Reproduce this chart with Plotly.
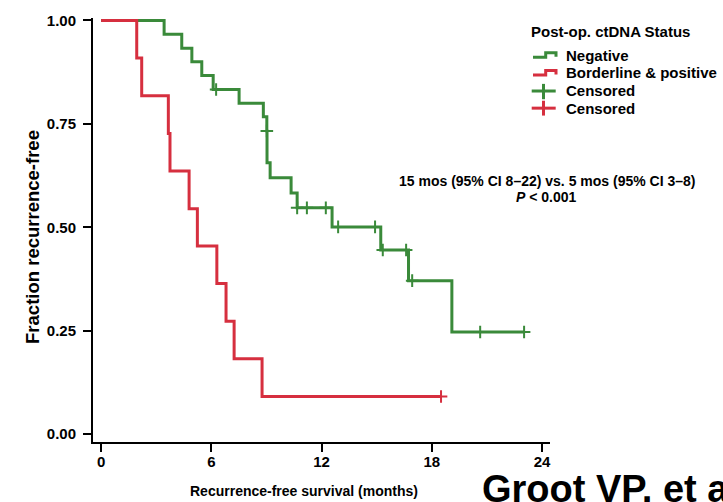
import plotly.graph_objects as go

# ---------------- data ----------------
neg_times = [3.43, 4.39, 4.94, 5.48, 6.10, 7.51, 8.83, 9.02, 9.03, 9.20, 10.34, 10.67, 12.57, 15.22, 16.73, 19.09]
neg_surv = [0.967, 0.933, 0.900, 0.867, 0.833, 0.800, 0.767, 0.733, 0.656, 0.620, 0.583, 0.547, 0.501, 0.445, 0.371, 0.247]
neg_end = 23.02
neg_cens_t = [6.26, 9.02, 10.67, 11.20, 12.23, 12.90, 14.91, 15.33, 16.60, 16.93, 20.63, 23.02]
neg_cens_s = [0.833, 0.733, 0.547, 0.547, 0.547, 0.501, 0.501, 0.445, 0.445, 0.371, 0.247, 0.247]

pos_times = [1.94, 2.21, 3.66, 3.75, 4.79, 5.24, 6.30, 6.80, 7.24, 8.76]
pos_surv = [0.909, 0.818, 0.727, 0.636, 0.545, 0.455, 0.364, 0.273, 0.182, 0.091]
pos_end = 18.5
pos_cens_t = [18.5]
pos_cens_s = [0.091]

x_ticks = [0, 6, 12, 18, 24]
y_ticks = [0.00, 0.25, 0.50, 0.75, 1.00]
y_tick_labels = ["0.00", "0.25", "0.50", "0.75", "1.00"]

GREEN = "#3a8a3a"
RED = "#d62f3f"
FONT = "Liberation Sans, Arial, sans-serif"

W, H = 723, 502
L, R, T, B = 93, 173, 14, 60
PW, PH = W - L - R, H - T - B


def px(xp):
    return (xp - L) / PW


def py(yp):
    return (H - B - yp) / PH


fig = go.Figure()

fig.add_trace(go.Scatter(
    x=[0] + neg_times + [neg_end], y=[1.0] + neg_surv + [neg_surv[-1]],
    mode="lines", line=dict(color=GREEN, width=3, shape="hv"),
    name="Negative", showlegend=False, hoverinfo="skip"))
fig.add_trace(go.Scatter(
    x=neg_cens_t, y=neg_cens_s, mode="markers",
    marker=dict(symbol="cross-thin", size=9, line=dict(color=GREEN, width=2)),
    name="Censored", showlegend=False, cliponaxis=False))
fig.add_trace(go.Scatter(
    x=[0] + pos_times + [pos_end], y=[1.0] + pos_surv + [pos_surv[-1]],
    mode="lines", line=dict(color=RED, width=3, shape="hv"),
    name="Borderline & positive", showlegend=False, hoverinfo="skip"))
fig.add_trace(go.Scatter(
    x=pos_cens_t, y=pos_cens_s, mode="markers",
    marker=dict(symbol="cross-thin", size=9, line=dict(color=RED, width=2)),
    name="Censored", showlegend=False, cliponaxis=False))

axis_common = dict(showline=True, linecolor="black", linewidth=2, ticks="outside",
                   ticklen=8, tickwidth=2, tickcolor="black", showgrid=False,
                   zeroline=False, tickfont=dict(family=FONT, size=15, color="black", weight="bold"))

fig.update_xaxes(range=[-0.44, 24.43], tickvals=x_ticks, ticktext=[str(v) for v in x_ticks],
                 ticklabelstandoff=-3, **axis_common)
fig.update_yaxes(range=[-0.019, 1.006], tickvals=y_ticks, ticktext=y_tick_labels, ticklabelstandoff=4, **axis_common)

ann = []


def text(xp, yp, s, size, xanchor="center", textangle=0):
    ann.append(dict(x=px(xp), y=py(yp), xref="paper", yref="paper", text=s, showarrow=False,
                    xanchor=xanchor, yanchor="middle", textangle=textangle,
                    font=dict(family=FONT, size=size, color="black", weight="bold")))


text(304, 491, "Recurrence-free survival (months)", 14)
text(33, 235, "Fraction recurrence-free", 18.5, textangle=-90)
text(546.5, 179, "15 mos (95% CI 8–22) vs. 5 mos (95% CI 3–8)", 14)
text(546.5, 195, "<i>P</i> &lt; 0.001", 14)
text(529, 28, "Post-op. ctDNA Status", 15, xanchor="left")
text(564, 51.5, "Negative", 15, xanchor="left")
text(564, 69.5, "Borderline &amp; positive", 15, xanchor="left")
text(564, 87.5, "Censored", 15, xanchor="left")
text(564, 105, "Censored", 15, xanchor="left")
text(480, 489, "Groot VP, et al", 38, xanchor="left")

shapes = []


def path(points, color):
    d = "M" + " L".join(f"{px(a):.5f},{py(b):.5f}" for a, b in points)
    shapes.append(dict(type="path", path=d, xref="paper", yref="paper",
                       line=dict(color=color, width=3)))


path([(533, 53.5), (545.7, 53.5), (545.7, 49), (556, 49), (556, 53)], GREEN)
path([(533, 71.5), (545.7, 71.5), (545.7, 67), (556, 67), (556, 71)], RED)
path([(531.7, 87.7), (555.7, 87.7)], GREEN)
path([(543.5, 80.5), (543.5, 96)], GREEN)
path([(531.7, 105), (555.7, 105)], RED)
path([(543.5, 97.5), (543.5, 112.5)], RED)

fig.update_layout(width=W, height=H, margin=dict(l=L, r=R, t=T, b=B, pad=0),
                  paper_bgcolor="white", plot_bgcolor="white",
                  annotations=ann, shapes=shapes, showlegend=False)

fig.write_html("out.html")
